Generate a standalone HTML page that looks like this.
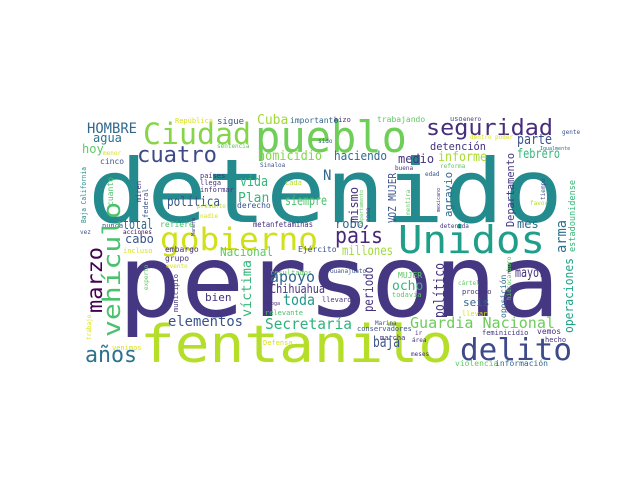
<!DOCTYPE html>
<html><head><meta charset="utf-8"><style>
html,body{margin:0;padding:0;background:#fff;width:640px;height:480px;overflow:hidden}
svg text{font-family:"DejaVu Sans Mono","Liberation Mono",monospace}
</style></head><body>
<svg width="640" height="480" viewBox="0 0 640 480">
<rect width="640" height="480" fill="#fff"/>
<g>
<text x="88" y="222" font-size="88" textLength="475" lengthAdjust="spacingAndGlyphs" fill="#238a8d">detenido</text>
<text x="118" y="316" font-size="100" textLength="442" lengthAdjust="spacingAndGlyphs" fill="#453781">persona</text>
<text x="140" y="362" font-size="52" textLength="313" lengthAdjust="spacingAndGlyphs" fill="#b5de2b">fentanilo</text>
<text x="255" y="152" font-size="44" textLength="152" lengthAdjust="spacingAndGlyphs" fill="#6ece58">pueblo</text>
<text x="143" y="144" font-size="29" textLength="108" lengthAdjust="spacingAndGlyphs" fill="#86d549">Ciudad</text>
<text x="160" y="250" font-size="31" textLength="158" lengthAdjust="spacingAndGlyphs" fill="#d0e11c">gobierno</text>
<text x="398" y="253" font-size="38" textLength="147" lengthAdjust="spacingAndGlyphs" fill="#1f9e89">Unidos</text>
<text x="460" y="360" font-size="30" textLength="112" lengthAdjust="spacingAndGlyphs" fill="#3e4a89">delito</text>
<text x="426" y="135" font-size="22" textLength="127" lengthAdjust="spacingAndGlyphs" fill="#472d7b">seguridad</text>
<text x="137" y="162" font-size="22" textLength="80" lengthAdjust="spacingAndGlyphs" fill="#3e4989">cuatro</text>
<text x="335" y="243" font-size="22" textLength="48" lengthAdjust="spacingAndGlyphs" fill="#482878">país</text>
<text x="85" y="362" font-size="22" textLength="52" lengthAdjust="spacingAndGlyphs" fill="#2c728e">años</text>
<text x="168" y="326" font-size="14" textLength="75" lengthAdjust="spacingAndGlyphs" fill="#3b528b">elementos</text>
<text x="265" y="329" font-size="15" textLength="87" lengthAdjust="spacingAndGlyphs" fill="#2db27d">Secretaría</text>
<text x="410" y="328" font-size="15" textLength="145" lengthAdjust="spacingAndGlyphs" fill="#6ccd5a">Guardia Nacional</text>
<text x="87" y="133" font-size="14" textLength="50" lengthAdjust="spacingAndGlyphs" fill="#31688e">HOMBRE</text>
<text x="93" y="142" font-size="12" fill="#2c728e">agua</text>
<text x="82" y="153" font-size="12" fill="#5ec962">hoy</text>
<text x="100" y="164" font-size="8" fill="#3b528b">cinco</text>
<text x="175" y="123" font-size="7" fill="#d8e219">República</text>
<text x="217" y="124" font-size="9" fill="#3b528b">sigue</text>
<text x="257" y="124" font-size="13" fill="#a0da39">Cuba</text>
<text x="290" y="123" font-size="8" fill="#31688e">importante</text>
<text x="334" y="122" font-size="7" fill="#46337e">hizo</text>
<text x="377" y="122" font-size="8" fill="#5ec962">trabajando</text>
<text x="450" y="121" font-size="7" fill="#3b528b">uso</text>
<text x="463" y="121" font-size="6" fill="#46337e">enero</text>
<text x="258" y="160" font-size="13" textLength="64" lengthAdjust="spacingAndGlyphs" fill="#84d44b">homicidio</text>
<text x="334" y="160" font-size="12" textLength="53" lengthAdjust="spacingAndGlyphs" fill="#31688e">haciendo</text>
<text x="398" y="163" font-size="12" fill="#46337e">medio</text>
<text x="438" y="161" font-size="13" textLength="49" lengthAdjust="spacingAndGlyphs" fill="#a8db34">informe</text>
<text x="430" y="150" font-size="11" textLength="56" lengthAdjust="spacingAndGlyphs" fill="#46337e">detención</text>
<text x="517" y="144" font-size="14" textLength="35" lengthAdjust="spacingAndGlyphs" fill="#3b528b">parte</text>
<text x="517" y="158" font-size="13" textLength="43" lengthAdjust="spacingAndGlyphs" fill="#35b779">febrero</text>
<text x="318" y="143" font-size="6" fill="#3b528b">sido</text>
<text x="217" y="148" font-size="6" fill="#5ec962">sentencia</text>
<text x="260" y="167" font-size="6" fill="#3b528b">Sinaloa</text>
<text x="323" y="180" font-size="14" fill="#31688e">N</text>
<text x="440" y="168" font-size="6" fill="#5ec962">reforma</text>
<text x="425" y="176" font-size="6" fill="#3b528b">edad</text>
<text x="395" y="170" font-size="6" fill="#46337e">buena</text>
<text x="470" y="139" font-size="6" fill="#d8e219">dentro</text>
<text x="495" y="139" font-size="6" fill="#d8e219">poder</text>
<text x="562" y="134" font-size="6" fill="#3b528b">gente</text>
<text x="540" y="150" font-size="5" fill="#2c728e">Igualmente</text>
<text x="103" y="155" font-size="6" fill="#d8e219">menor</text>
<text x="200" y="178" font-size="7" fill="#46337e">países</text>
<text x="200" y="185" font-size="7" fill="#46337e">llega</text>
<text x="240" y="186" font-size="14" textLength="28" lengthAdjust="spacingAndGlyphs" fill="#35b779">vida</text>
<text x="285" y="185" font-size="7" fill="#b5de2b">cada</text>
<text x="200" y="192" font-size="7" fill="#46337e">informar</text>
<text x="167" y="206" font-size="13" textLength="53" lengthAdjust="spacingAndGlyphs" fill="#3b528b">política</text>
<text x="238" y="202" font-size="13" fill="#35b779">Plan</text>
<text x="285" y="205" font-size="13" textLength="42" lengthAdjust="spacingAndGlyphs" fill="#4ac16d">siempre</text>
<text x="197" y="208" font-size="6" fill="#b5de2b">presunto</text>
<text x="237" y="208" font-size="8" fill="#3b528b">derecho</text>
<text x="200" y="218" font-size="6" fill="#d8e219">nadie</text>
<text x="102" y="228" font-size="7" fill="#3b528b">nunca</text>
<text x="123" y="229" font-size="14" textLength="30" lengthAdjust="spacingAndGlyphs" fill="#31688e">total</text>
<text x="160" y="227" font-size="8" fill="#4ac16d">refiere</text>
<text x="253" y="227" font-size="8" textLength="60" lengthAdjust="spacingAndGlyphs" fill="#46337e">metanfetaminas</text>
<text x="123" y="234" font-size="6" fill="#440154">acciones</text>
<text x="80" y="234" font-size="6" fill="#3b528b">vez</text>
<text x="125" y="243" font-size="12" fill="#3b528b">cabo</text>
<text x="335" y="228" font-size="12" fill="#31688e">robo</text>
<text x="517" y="228" font-size="12" fill="#31688e">mes</text>
<text x="440" y="228" font-size="6" fill="#46337e">detenida</text>
<text x="530" y="205" font-size="6" fill="#b5de2b">favor</text>
<text x="123" y="253" font-size="7" fill="#d8e219">incluso</text>
<text x="165" y="252" font-size="8" fill="#46337e">embargo</text>
<text x="220" y="256" font-size="12" textLength="53" lengthAdjust="spacingAndGlyphs" fill="#5ec962">Nacional</text>
<text x="298" y="252" font-size="8" fill="#3b528b">Ejército</text>
<text x="342" y="255" font-size="13" textLength="51" lengthAdjust="spacingAndGlyphs" fill="#a0da39">millones</text>
<text x="165" y="261" font-size="8" fill="#46337e">grupo</text>
<text x="166" y="268" font-size="6" fill="#d8e219">evento</text>
<text x="270" y="275" font-size="7" fill="#5ec962">resultados</text>
<text x="270" y="282" font-size="15" textLength="45" lengthAdjust="spacingAndGlyphs" fill="#31688e">apoyo</text>
<text x="270" y="293" font-size="12" textLength="55" lengthAdjust="spacingAndGlyphs" fill="#46337e">Chihuahua</text>
<text x="215" y="289" font-size="6" fill="#46337e">siete</text>
<text x="205" y="301" font-size="11" fill="#46337e">bien</text>
<text x="283" y="305" font-size="15" textLength="32" lengthAdjust="spacingAndGlyphs" fill="#1f9a8a">toda</text>
<text x="265" y="305" font-size="5" fill="#46337e">droga</text>
<text x="265" y="315" font-size="7" fill="#4ac16d">relevante</text>
<text x="112" y="350" font-size="7" fill="#d8e219">venimos</text>
<text x="263" y="345" font-size="7" fill="#d8e219">Defensa</text>
<text x="330" y="273" font-size="6" fill="#3b528b">Guanajuato</text>
<text x="398" y="278" font-size="8" fill="#5ec962">MUJER</text>
<text x="392" y="290" font-size="13" fill="#35b779">ocho</text>
<text x="392" y="297" font-size="7" fill="#5ec962">todavía</text>
<text x="322" y="302" font-size="7" fill="#46337e">llevaron</text>
<text x="515" y="277" font-size="13" textLength="30" lengthAdjust="spacingAndGlyphs" fill="#46337e">mayor</text>
<text x="458" y="285" font-size="6" fill="#5ec962">cártel</text>
<text x="462" y="294" font-size="7" fill="#46337e">proceso</text>
<text x="463" y="306" font-size="11" fill="#31688e">seis</text>
<text x="462" y="316" font-size="7" fill="#d8e219">llevar</text>
<text x="375" y="325" font-size="6" fill="#3b528b">Marina</text>
<text x="357" y="331" font-size="7" fill="#3b528b">conservadores</text>
<text x="482" y="335" font-size="7" fill="#46337e">feminicidio</text>
<text x="537" y="334" font-size="8" fill="#46337e">vemos</text>
<text x="545" y="342" font-size="7" fill="#46337e">hecho</text>
<text x="380" y="340" font-size="7" fill="#46337e">marcha</text>
<text x="415" y="335" font-size="6" fill="#46337e">ir</text>
<text x="412" y="342" font-size="6" fill="#46337e">área</text>
<text x="373" y="347" font-size="15" textLength="27" lengthAdjust="spacingAndGlyphs" fill="#3b528b">baja</text>
<text x="411" y="356" font-size="6" fill="#46337e">meses</text>
<text x="455" y="366" font-size="8" fill="#5ec962">violencia</text>
<text x="495" y="366" font-size="8" fill="#31688e">información</text>

<text transform="translate(102,313) rotate(-90)" font-size="21" textLength="66" lengthAdjust="spacingAndGlyphs" fill="#440154">marzo</text>
<text transform="translate(120,337) rotate(-90)" font-size="24" textLength="135" lengthAdjust="spacingAndGlyphs" fill="#4ac16d">vehículo</text>
<text transform="translate(251,317) rotate(-90)" font-size="13" textLength="57" lengthAdjust="spacingAndGlyphs" fill="#35b779">víctima</text>
<text transform="translate(86,223) rotate(-90)" font-size="7" textLength="56" lengthAdjust="spacingAndGlyphs" fill="#21918c">Baja California</text>
<text transform="translate(113,206) rotate(-90)" font-size="8" fill="#4ac16d">cuanto</text>
<text transform="translate(141,202) rotate(-90)" font-size="7" fill="#46337e">miren</text>
<text transform="translate(148,218) rotate(-90)" font-size="7" fill="#3b528b">federal</text>
<text transform="translate(195,236) rotate(-90)" font-size="5" fill="#46337e">Manera</text>
<text transform="translate(148,290) rotate(-90)" font-size="6" fill="#5ec962">experto</text>
<text transform="translate(178,312) rotate(-90)" font-size="7" fill="#46337e">municipio</text>
<text transform="translate(91,340) rotate(-90)" font-size="6" fill="#d8e219">trabajo</text>
<text transform="translate(358,223) rotate(-90)" font-size="12" fill="#46337e">mismo</text>
<text transform="translate(370,222) rotate(-90)" font-size="6" fill="#3b528b">zona</text>
<text transform="translate(363,226) rotate(-90)" font-size="5" fill="#5ec962">Departamento</text>
<text transform="translate(396,223) rotate(-90)" font-size="11" textLength="50" lengthAdjust="spacingAndGlyphs" fill="#3b528b">VOZ MUJER</text>
<text transform="translate(410,215) rotate(-90)" font-size="6" fill="#5ec962">mentira</text>
<text transform="translate(452,217) rotate(-90)" font-size="11" textLength="45" lengthAdjust="spacingAndGlyphs" fill="#31688e">agravio</text>
<text transform="translate(440,212) rotate(-90)" font-size="5" fill="#46337e">mexicano</text>
<text transform="translate(514,227) rotate(-90)" font-size="11" textLength="74" lengthAdjust="spacingAndGlyphs" fill="#443983">Departamento</text>
<text transform="translate(545,200) rotate(-90)" font-size="6" fill="#3b528b">tiempo</text>
<text transform="translate(566,253) rotate(-90)" font-size="14" textLength="33" lengthAdjust="spacingAndGlyphs" fill="#2c728e">arma</text>
<text transform="translate(575,252) rotate(-90)" font-size="9" textLength="72" lengthAdjust="spacingAndGlyphs" fill="#35b779">estadounidense</text>
<text transform="translate(573,333) rotate(-90)" font-size="12" textLength="75" lengthAdjust="spacingAndGlyphs" fill="#20a486">operaciones</text>
<text transform="translate(373,312) rotate(-90)" font-size="13" textLength="45" lengthAdjust="spacingAndGlyphs" fill="#46337e">periodo</text>
<text transform="translate(444,318) rotate(-90)" font-size="14" textLength="55" lengthAdjust="spacingAndGlyphs" fill="#46337e">político</text>
<text transform="translate(506,318) rotate(-90)" font-size="8" fill="#31688e">oposición</text>
<text transform="translate(511,300) rotate(-90)" font-size="6" fill="#5ec962">hidrocarburo</text>
</g>
</svg>
</body></html>
